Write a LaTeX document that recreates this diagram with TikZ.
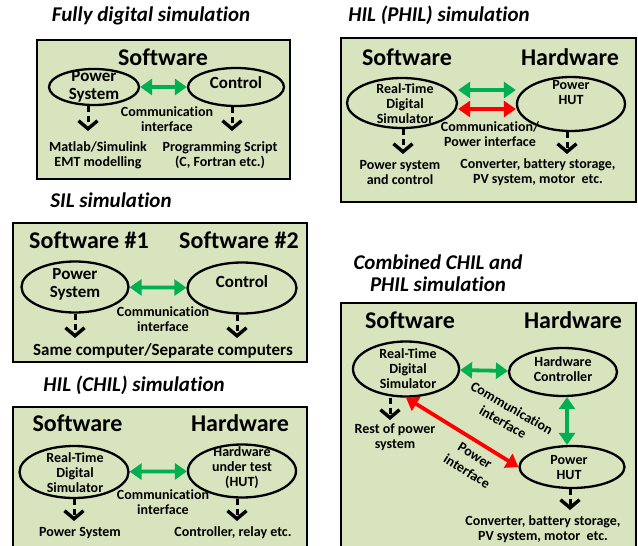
\documentclass[tikz,border=0pt]{standalone}
\usepackage{fontspec}
\setmainfont{Carlito}[Ligatures=NoCommon]
\usetikzlibrary{shapes.geometric,arrows.meta,calc}

\definecolor{boxgreen}{RGB}{215,228,189}
\definecolor{linkgreen}{RGB}{0,176,80}
\definecolor{linkred}{RGB}{255,0,0}

\tikzset{
  panel/.style={draw=black, line width=2.8pt, fill=boxgreen},
  ell/.style={ellipse, draw=black, line width=2.3pt, inner sep=0pt},
  ttl/.style={font=\bfseries\itshape\fontsize{21}{22}\selectfont, align=center, inner sep=0pt},
  head/.style={font=\bfseries\fontsize{24}{26}\selectfont, inner sep=0pt},
  midtxt/.style={font=\bfseries\fontsize{17}{18}\selectfont, align=center, inner sep=0pt},
  smalltxt/.style={font=\bfseries\fontsize{14}{15}\selectfont, align=center, inner sep=0pt},
  biarrow/.style={line width=3.8pt, {Triangle[length=12pt,width=16pt]}-{Triangle[length=12pt,width=16pt]}},
  greenlink/.style={biarrow, draw=linkgreen, color=linkgreen},
  redlink/.style={biarrow, draw=linkred, color=linkred},
  downlink/.style={line width=3pt, dash pattern=on 6pt off 4pt,
    -{Straight Barb[length=8pt,width=19pt,line width=3.4pt]}}
}

\begin{document}
\begin{tikzpicture}[x=1pt,y=-1pt]
\clip (0,0) rectangle (638,546);
\fill[white] (0,0) rectangle (638,546);

% ---------------- Fully digital simulation ----------------
\node[ttl] (t1) at (151,16) {Fully digital simulation};
\draw[panel] (37,40) rectangle (290,179);
\node[head] (sw1) at (163,57) {Software};
\node[ell, minimum width=90pt, minimum height=36pt] (ps1) at (94,87) {};
\node[midtxt] (ps1t) at (94,86) {Power\\System};
\node[ell, minimum width=96pt, minimum height=38pt] (ct1) at (236,87) {};
\node[midtxt] (ct1t) at (236,83) {Control};
\draw[greenlink] (ps1) -- (ct1);
\node[smalltxt] (cm1) at (167,119.5) {Communication\\interface};
\coordinate (d1a) at (88,131);
\coordinate (d1b) at (232,131);
\draw[downlink] (d1a |- ps1.south) -- (d1a);
\draw[downlink] (d1b |- ct1.south) -- (d1b);
\node[smalltxt] (o1a) at (98,155.5) {Matlab/Simulink\\EMT modelling};
\node[smalltxt] (o1b) at (220,155.5) {Programming Script\\(C, Fortran etc.)};

% ---------------- HIL (PHIL) simulation ----------------
\node[ttl] (t2) at (439,15) {HIL (PHIL) simulation};
\draw[panel] (341,38) rectangle (636,202);
\node[head] (sw2) at (407,57) {Software};
\node[head] (hw2) at (570,57) {Hardware};
\node[ell, minimum width=110pt, minimum height=50pt] (rt2) at (402,103) {};
\node[smalltxt] (rt2t) at (405,104) {Real-Time\\Digital\\Simulator};
\node[ell, minimum width=108pt, minimum height=54pt] (hut2) at (571,104) {};
\node[smalltxt] (hut2t) at (571,92.5) {Power\\HUT};
\draw[greenlink] ($(rt2.east)+(0,-13)$) -- ($(hut2.west)+(0,-14)$);
\draw[redlink] ($(rt2.east)+(0,6)$) -- ($(hut2.west)+(0,5)$);
\node[smalltxt] (cm2) at (490,134.5) {Communication/\\Power interface};
\coordinate (d2a) at (403,154);
\coordinate (d2b) at (567,154);
\draw[downlink] (d2a |- rt2.south) -- (d2a);
\draw[downlink] (d2b |- hut2.south) -- (d2b);
\node[smalltxt] (o2a) at (400,172.5) {Power system\\and control};
\node[smalltxt] (o2b) at (538,172.5) {Converter, battery storage,\\PV system, motor\ \ etc.};

% ---------------- SIL simulation ----------------
\node[ttl] (t3) at (111,200) {SIL simulation};
\draw[panel] (13,223) rectangle (307,362);
\node[head] (sw3a) at (89,240) {Software \#1};
\node[head] (sw3b) at (239,240) {Software \#2};
\node[ell, minimum width=107pt, minimum height=51pt] (ps3) at (75,287) {};
\node[midtxt] (ps3t) at (75,284.5) {Power\\System};
\node[ell, minimum width=109pt, minimum height=51pt] (ct3) at (242,288) {};
\node[midtxt] (ct3t) at (242,282) {Control};
\draw[greenlink] (ps3) -- (ct3);
\node[smalltxt] (cm3) at (163,319) {Communication\\interface};
\coordinate (d3a) at (75,338);
\coordinate (d3b) at (237,338);
\draw[downlink] (d3a |- ps3.south) -- (d3a);
\draw[downlink] (d3b |- ct3.south) -- (d3b);
\node[midtxt] (o3) at (163,351) {Same computer/Separate computers};

% ---------------- HIL (CHIL) simulation ----------------
\node[ttl] (t4) at (134,385) {HIL (CHIL) simulation};
\draw[panel] (13,407) rectangle (307,560);
\node[head] (sw4) at (77.5,423) {Software};
\node[head] (hw4) at (240,423) {Hardware};
\node[ell, minimum width=109pt, minimum height=52pt] (rt4) at (74,472) {};
\node[smalltxt] (rt4t) at (75,473) {Real-Time\\Digital\\Simulator};
\node[ell, minimum width=108pt, minimum height=53pt] (hut4) at (242,471) {};
\node[smalltxt] (hut4t) at (242,468) {Hardware\\under test\\(HUT)};
\draw[greenlink] (rt4) -- (hut4);
\node[smalltxt] (cm4) at (163,502.5) {Communication\\interface};
\coordinate (d4a) at (74,521);
\coordinate (d4b) at (237,521);
\draw[downlink] (d4a |- rt4.south) -- (d4a);
\draw[downlink] (d4b |- hut4.south) -- (d4b);
\node[smalltxt] (o4a) at (80,533) {Power System};
\node[smalltxt] (o4b) at (233,533) {Controller, relay etc.};

% ---------------- Combined CHIL and PHIL simulation ----------------
\node[ttl] (t5) at (438,273) {Combined CHIL and\\PHIL simulation};
\draw[panel] (341,303) rectangle (636,560);
\node[head] (sw5) at (410,320) {Software};
\node[head] (hw5) at (573,320) {Hardware};
\node[ell, minimum width=106pt, minimum height=55pt] (rt5) at (406,369) {};
\node[smalltxt] (rt5t) at (408,369) {Real-Time\\Digital\\Simulator};
\node[ell, minimum width=108pt, minimum height=48pt] (hc5) at (563,372) {};
\node[smalltxt] (hc5t) at (563,369.5) {Hardware\\Controller};
\node[ell, minimum width=105pt, minimum height=42pt] (hut5) at (572,467) {};
\node[smalltxt] (hut5t) at (569,467.5) {Power\\HUT};
\draw[greenlink] (rt5) -- (hc5);
\draw[greenlink] ([xshift=4pt]hc5.south) -- ([xshift=4pt]hc5.south |- hut5.north);
\draw[redlink] (rt5.south) -- (hut5.west);
% rotated link labels, one node per line
\node[smalltxt, rotate=-30] (cm5a) at (512,408) {Communication};
\node[smalltxt, rotate=-30] (cm5b) at (503,422) {interface};
\node[smalltxt, rotate=-32] (pw5a) at (475,456) {Power};
\node[smalltxt, rotate=-32] (pw5b) at (467,471) {interface};
\coordinate (d5a) at (390,420);
\coordinate (d5b) at (570,510);
\draw[downlink] (d5a |- rt5.south) -- (d5a);
\draw[downlink] (d5b |- hut5.south) -- (d5b);
\node[smalltxt] (o5a) at (395,437) {Rest of power\\system};
\node[smalltxt] (o5b) at (543,529.5) {Converter, battery storage,\\PV system, motor\ \ etc.};
\end{tikzpicture}
\end{document}
